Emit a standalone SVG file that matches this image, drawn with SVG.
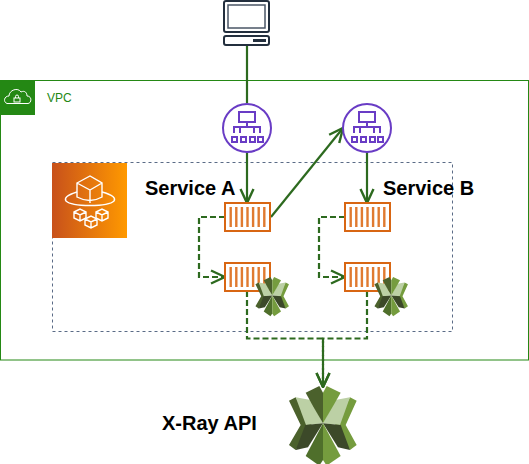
<svg xmlns="http://www.w3.org/2000/svg" xmlns:xlink="http://www.w3.org/1999/xlink" width="529" height="464" viewBox="0 0 529 464">
<style>
.label{font-family:"Liberation Sans",Arial,sans-serif;font-weight:bold;font-size:20px;fill:#000}
.conn{fill:none;stroke:#2d6a1f;stroke-width:2.200}
.dash{stroke-dasharray:6 3}
.alb{fill:#fff;stroke:#693cc5;stroke-width:2}
.albi{fill:none;stroke:#693cc5;stroke-width:2}
.qbox{fill:#fff;stroke:#d86613;stroke-width:2}
.qbar{stroke:#e07a30;stroke-width:2.400}
</style>
<defs>
<linearGradient id="fg" x1="0" x2="1" y1="0" y2="0"><stop offset="0" stop-color="#c8511b"/><stop offset="1" stop-color="#f90"/></linearGradient>
<marker id="open" viewBox="0 0 16 16" refX="15" refY="8" markerWidth="16" markerHeight="16" markerUnits="userSpaceOnUse" orient="auto"><path d="M1,1.500 L15,8 L1,14.500" fill="none" stroke="#2d6a1f" stroke-width="2.400"/></marker>
<g id="xray">
<polygon points="27,92 47,82 95,165 47,240 27,225 62,165" fill="#4b612c"/>
<polygon points="230,92 210,82 165,165 210,240 230,225 197,165" fill="#759c3e"/>
<polygon points="47,82 92,90 129,160 78,165" fill="#bcd0a5"/>
<polygon points="210,82 166,90 129,160 180,165" fill="#bcd0a5"/>
<polygon points="77,68 118,48 129,68 129,160 100,110" fill="#4b612c"/>
<polygon points="182,68 140,48 129,68 129,160 158,110" fill="#759c3e"/>
<polygon points="76,165 129,160 84,232 47,240" fill="#3c4929"/>
<polygon points="182,165 129,160 174,232 210,240" fill="#3c4929"/>
<polygon points="77,258 129,160 129,270 118,287" fill="#4f6f2b"/>
<polygon points="182,258 129,160 129,270 140,287" fill="#759c3e"/>
</g>
<g id="alb">
<circle cx="0" cy="0" r="24" class="alb"/>
<path class="albi" d="M-8,-16H8V-6H-8ZM0,-6V-1M-13,5V-1H13V5M-7,5V-1M7,5V-1M-15,9H-10V14H-15ZM-6,9H-1V14H-6ZM3,9H8V14H3ZM11,9H16V14H11Z"/>
</g>
<g id="queue">
<rect x="0" y="0" width="45" height="28" class="qbox"/>
<path class="qbar" d="M5.700,4V24M11.300,4V24M16.900,4V24M22.500,4V24M28.100,4V24M33.700,4V24M39.300,4V24"/>
</g>
</defs>
<g id="vpc">
<rect x="0.500" y="80.500" width="528" height="279.500" fill="#fff" stroke="#248814" stroke-width="1"/>
<rect x="0" y="80" width="35" height="35" fill="#248814"/>
<path d="M7,103.500C3,102 4,96 9,96C9,90 18,87 21,92C25,90 27,93 27,96C32,96 32,103 28,103.500Z" fill="none" stroke="#fff" stroke-width="1"/>
<rect x="14" y="98" width="6" height="4" fill="none" stroke="#fff" stroke-width="1"/>
<path d="M15.500,98V96.500A1.500,1.500 0 0 1 18.500,96.500V98" fill="none" stroke="#fff"/>
<text x="47" y="102" font-family="Liberation Sans, Arial, sans-serif" font-size="12" fill="#248814">VPC</text>
</g>
<g id="cluster">
<rect x="52.500" y="162.500" width="400" height="169" fill="none" stroke="#5a6b86" stroke-dasharray="3 3"/>
</g>
<g id="fargate">
<rect x="52" y="163" width="75" height="75" fill="url(#fg)"/>
<g fill="none" stroke="#fff" stroke-width="1.400">
<path d="M77,183L90,176L102,183V197Q90,204 77,197ZM77,183L90,190L102,183M90,190V203"/>
<path d="M77,192C67,195 64,198 66,201C72,207 108,207 114,201C116,198 113,195 102,192"/>
<path d="M74,212L80,209L86,212V218L80,221L74,218ZM74,212L80,215L86,212M80,215V221"/>
<path d="M85,219L91,216L97,219V225L91,228L85,225ZM85,219L91,222L97,219M91,222V228"/>
<path d="M96,212L102,209L108,212V218L102,221L96,218ZM96,212L102,215L108,212M102,215V221"/>
</g>
</g>
<g id="connectors">
<path class="conn" d="M247,45V103"/>
<path class="conn" d="M247,152V203" marker-end="url(#open)"/>
<path class="conn" d="M367,152V203" marker-end="url(#open)"/>
<path class="conn" d="M271,217L343,128" marker-end="url(#open)"/>
<path class="conn dash" d="M225,217H199V277H225" marker-end="url(#open)"/>
<path class="conn dash" d="M345,217H319V277H345" marker-end="url(#open)"/>
<path class="conn dash" d="M247,291V338.500H323V387" marker-end="url(#open)"/>
<path class="conn dash" d="M367,291V338.500H323V387" marker-end="url(#open)"/>
</g>
<g id="client">
<rect x="224" y="1" width="45" height="31" rx="2" fill="#fff" stroke="#232f3e" stroke-width="2"/>
<rect x="228" y="5" width="37" height="23" fill="#fff" stroke="#4a5666" stroke-width="1.500"/>
<rect x="224" y="36" width="45" height="9" rx="2" fill="#fff" stroke="#232f3e" stroke-width="2"/>
<rect x="253" y="39" width="13" height="3" fill="#232f3e"/>
</g>
<use id="alb-a" xlink:href="#alb" href="#alb" x="247" y="128"/>
<use id="alb-b" xlink:href="#alb" href="#alb" x="367" y="128"/>
<use id="queue-a1" xlink:href="#queue" href="#queue" x="225" y="203"/>
<use id="queue-a2" xlink:href="#queue" href="#queue" x="225" y="263"/>
<use id="queue-b1" xlink:href="#queue" href="#queue" x="345" y="203"/>
<use id="queue-b2" xlink:href="#queue" href="#queue" x="345" y="263"/>
<use id="xray-a" xlink:href="#xray" href="#xray" transform="translate(251,269) scale(0.165)"/>
<use id="xray-b" xlink:href="#xray" href="#xray" transform="translate(370,269) scale(0.165)"/>
<use id="xray-api" xlink:href="#xray" href="#xray" transform="translate(280,370) scale(0.3333)"/>
<g id="labels">
<text class="label" x="145" y="195">Service A</text>
<text class="label" x="383" y="195">Service B</text>
<text class="label" x="162" y="430">X-Ray API</text>
</g>
</svg>
